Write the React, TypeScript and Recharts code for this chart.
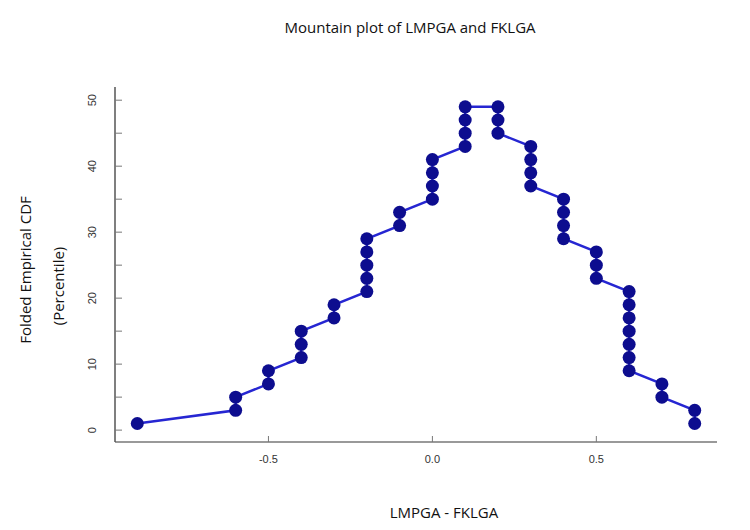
import { LineChart, Line, XAxis, YAxis } from 'recharts';

// folded empirical CDF points, in path order (difference, percentile)
const diffs = [
    -0.9, -0.6, -0.6, -0.5, -0.5, -0.4, -0.4, -0.4, -0.3, -0.3,
    -0.2, -0.2, -0.2, -0.2, -0.2, -0.1, -0.1, 0, 0, 0,
    0, 0.1, 0.1, 0.1, 0.1, 0.2, 0.2, 0.2, 0.3, 0.3,
    0.3, 0.3, 0.4, 0.4, 0.4, 0.4, 0.5, 0.5, 0.5, 0.6,
    0.6, 0.6, 0.6, 0.6, 0.6, 0.6, 0.7, 0.7, 0.8, 0.8,
];
const percentiles = [
    1, 3, 5, 7, 9, 11, 13, 15, 17, 19,
    21, 23, 25, 27, 29, 31, 33, 35, 37, 39,
    41, 43, 45, 47, 49, 49, 47, 45, 43, 41,
    39, 37, 35, 33, 31, 29, 27, 25, 23, 21,
    19, 17, 15, 13, 11, 9, 7, 5, 3, 1,
];
const xTicks = [-0.5, 0, 0.5];
const yTicks = [0, 5, 10, 15, 20, 25, 30, 35, 40, 45, 50];

const data = diffs.map((d, i) => ({ x: d, y: percentiles[i] }));

const labelFont = '"Open Sans", sans-serif';
const tickFont = '"Liberation Sans", Arial, sans-serif';

const XTick = (props: any) => {
    const { x, y, payload } = props;
    return (
        <text x={x} y={y} textAnchor="middle" fontFamily={tickFont} fontSize={11} fill="#333">
            {payload.value.toFixed(1)}
        </text>
    );
};

const YTick = (props: any) => {
    const { x, y, payload } = props;
    if (payload.value % 10 !== 0) return null;
    return (
        <text
            x={x}
            y={y}
            transform={`rotate(-90, ${x}, ${y})`}
            textAnchor="middle"
            fontFamily={tickFont}
            fontSize={11}
            fill="#333"
        >
            {payload.value}
        </text>
    );
};

// rotated axis-title line, centred on (cx, cy)
const VLabel = ({ cx, cy, text }: { cx: number; cy: number; text: string }) => (
    <div style={{ position: 'absolute', left: cx, top: cy, width: 0, height: 0 }}>
        <div style={{
            position: 'absolute', left: -150, top: -11, width: 300, textAlign: 'center',
            transform: 'rotate(-90deg)', fontFamily: labelFont, fontSize: 15, color: '#111', lineHeight: '22px',
        }}>
            {text}
        </div>
    </div>
);

export default function App() {
    return (
        <div style={{ position: 'absolute', left: 0, top: 0, width: 750, height: 530, background: '#fff' }}>
            <div style={{ position: 'absolute', left: 0, width: 820, top: 17, textAlign: 'center', fontFamily: labelFont, fontSize: 15, color: '#111' }}>
                Mountain plot of LMPGA and FKLGA
            </div>
            <div style={{ position: 'absolute', left: 0, width: 888, top: 502, textAlign: 'center', fontFamily: labelFont, fontSize: 15, color: '#111' }}>
                LMPGA - FKLGA
            </div>
            <VLabel cx={25} cy={270} text="Folded Empirical CDF" />
            <VLabel cx={58} cy={286} text="(Percentile)" />
            <LineChart
                width={750}
                height={530}
                data={data}
                margin={{ top: 87, right: 33, left: 55, bottom: 28 }}
                style={{ position: 'absolute', left: 0, top: 0 }}
            >
                <XAxis
                    type="number"
                    dataKey="x"
                    domain={[-0.968, 0.868]}
                    ticks={xTicks}
                    allowDataOverflow
                    height={60}
                    tickSize={-6}
                    tickMargin={27}
                    tick={<XTick />}
                    axisLine={{ stroke: '#777', strokeWidth: 1.5 }}
                    tickLine={{ stroke: '#777' }}
                />
                <YAxis
                    type="number"
                    dataKey="y"
                    domain={[-1.8, 52]}
                    ticks={yTicks}
                    allowDataOverflow
                    width={60}
                    tickSize={-7}
                    tickMargin={26}
                    tick={<YTick />}
                    axisLine={{ stroke: '#555', strokeWidth: 1.5 }}
                    tickLine={{ stroke: '#777' }}
                />
                <Line
                    type="linear"
                    dataKey="y"
                    stroke="#2626d2"
                    strokeWidth={2.5}
                    dot={{ r: 6.5, fill: '#0d0d8f', stroke: '#0d0d8f', strokeWidth: 0 }}
                    activeDot={false}
                    isAnimationActive={false}
                />
            </LineChart>
        </div>
    );
}
